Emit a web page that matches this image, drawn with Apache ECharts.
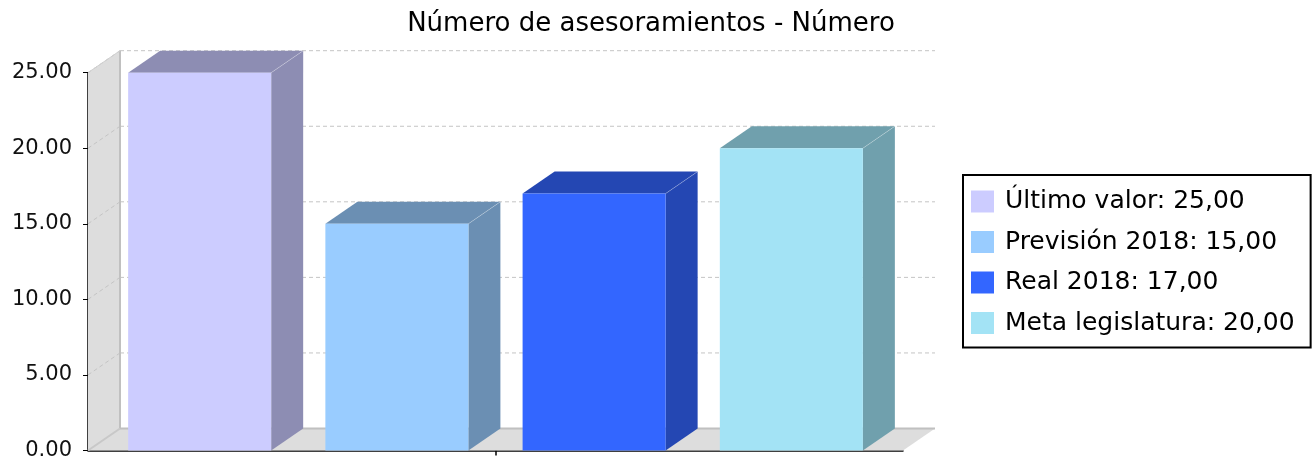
<!DOCTYPE html>
<html>
<head>
<meta charset="utf-8">
<script src="https://cdn.jsdelivr.net/npm/echarts@6/dist/echarts.min.js"></script>
<style>
html,body{margin:0;padding:0;background:#fff;}
#chart{width:1314px;height:461px;}
</style>
</head>
<body>
<div id="chart"></div>
<script>
// ---- data ----
const titleText = 'Número de asesoramientos - Número';
const categories = [''];
const seriesNames = ['Último valor', 'Previsión 2018', 'Real 2018', 'Meta legislatura'];
const seriesValues = [25, 15, 17, 20];
const yTicks = [0, 5, 10, 15, 20, 25];
const frontColors = ['#ccccff', '#99ccff', '#3366ff', '#a3e3f5'];
const sideColors = ['#8d8db3', '#6b8fb3', '#2447b3', '#70a0ad'];

// ---- 3D look ----
const DX = 32, DY = 22;
const STEP = 0.242, BARW = 0.1755;

const chart = echarts.init(document.getElementById('chart'), null, {renderer: 'canvas'});

function fmt(v) { return v.toFixed(2).replace('.', ','); }

function wallsRender(params, api) {
  const cs = params.coordSys;
  const x0 = cs.x, x1 = cs.x + cs.width;
  const yb = api.coord([0, yTicks[0]])[1];
  const yt = api.coord([0, yTicks[yTicks.length - 1]])[1];
  const children = [];
  children.push({type: 'polygon', shape: {points: [[x0, yb], [x1, yb], [x1 + DX, yb - DY], [x0 + DX, yb - DY]]},
    style: {fill: '#dddddd'}});
  children.push({type: 'polygon', shape: {points: [[x0, yb], [x0, yt], [x0 + DX, yt - DY], [x0 + DX, yb - DY]]},
    style: {fill: '#dddddd'}});
  yTicks.forEach(function (t) {
    if (t === yTicks[0]) return;
    const y = api.coord([0, t])[1];
    children.push({type: 'line', shape: {x1: x0 + DX, y1: y - DY, x2: x1 + DX, y2: y - DY},
      style: {stroke: '#c4c4c4', lineWidth: 1, lineDash: [4, 3]}});
    children.push({type: 'line', shape: {x1: x0, y1: y, x2: x0 + DX, y2: y - DY},
      style: {stroke: '#c4c4c4', lineWidth: 1, lineDash: [4, 3]}});
  });
  children.push({type: 'line', shape: {x1: x0 + DX, y1: yt - DY, x2: x0 + DX, y2: yb - DY},
    style: {stroke: '#c0c0c0', lineWidth: 2}});
  children.push({type: 'line', shape: {x1: x0 + DX, y1: yb - DY, x2: x1 + DX, y2: yb - DY},
    style: {stroke: '#c0c0c0', lineWidth: 2}});
  children.push({type: 'line', shape: {x1: x0, y1: yb, x2: x0 + DX, y2: yb - DY},
    style: {stroke: '#c8c8c8', lineWidth: 2}});
  children.push({type: 'line', shape: {x1: x0, y1: yt, x2: x0 + DX, y2: yt - DY},
    style: {stroke: '#d0d0d0', lineWidth: 1}});
  return {type: 'group', children: children};
}

function barRender(i) {
  return function (params, api) {
    const base = api.coord([api.value(0), 0]);
    const top = api.coord([api.value(0), api.value(1)]);
    const band = api.size([1, 0])[0];
    const cx = base[0] + (i - 1.5) * band * STEP;
    const bw = band * BARW;
    const xl = cx - bw / 2, xr = cx + bw / 2;
    const yb = base[1], yt = top[1];
    return {type: 'group', children: [
      {type: 'polygon', shape: {points: [[xr, yb], [xr, yt], [xr + DX, yt - DY], [xr + DX, yb - DY]]},
        style: {fill: sideColors[i]}},
      {type: 'polygon', shape: {points: [[xl, yt], [xl + DX, yt - DY], [xr + DX, yt - DY], [xr, yt]]},
        style: {fill: sideColors[i]}},
      {type: 'line', shape: {x1: xr, y1: yt, x2: xr + DX, y2: yt - DY},
        style: {stroke: 'rgba(255,255,255,0.25)', lineWidth: 1}},
      {type: 'rect', shape: {x: xl, y: yt, width: bw, height: yb - yt},
        style: {fill: frontColors[i]}}
    ]};
  };
}

const series = [{
  type: 'custom', name: '__walls', silent: true, clip: false, z: 1,
  renderItem: wallsRender, data: [[0, 0]], encode: {x: 0, y: 1}
}];
seriesNames.forEach(function (n, i) {
  series.push({
    type: 'custom', name: n, clip: false, z: 2,
    itemStyle: {color: frontColors[i]},
    renderItem: barRender(i),
    data: [[0, seriesValues[i]]], encode: {x: 0, y: 1}
  });
});

chart.setOption({
  animation: false,
  backgroundColor: '#ffffff',
  title: {
    text: titleText, left: 646, top: 6, textAlign: 'center',
    textStyle: {fontFamily: 'DejaVu Sans', fontSize: 26, fontWeight: 'normal', color: '#000'}
  },
  legend: {
    orient: 'vertical', left: 963, top: 175,
    data: seriesNames,
    icon: 'rect', itemWidth: 23, itemHeight: 22, itemGap: 15.5,
    padding: [14, 16, 12, 8],
    borderColor: '#000', borderWidth: 2,
    textStyle: {fontFamily: 'DejaVu Sans', fontSize: 25, color: '#000', padding: [0, 0, 0, 6]},
    formatter: function (name) {
      const i = seriesNames.indexOf(name);
      return name + ': ' + fmt(seriesValues[i]);
    }
  },
  grid: {left: 88, top: 72.7, width: 815, height: 379.3, containLabel: false},
  xAxis: {
    type: 'category', data: categories,
    axisLine: {lineStyle: {color: '#000', width: 1.5}},
    axisTick: {show: true, alignWithLabel: true, length: 5, lineStyle: {color: '#000', width: 1.5}},
    axisLabel: {show: false},
    splitLine: {show: false}
  },
  yAxis: {
    type: 'value', min: 0, max: 25, interval: 5,
    axisLine: {show: true, lineStyle: {color: '#000', width: 1.5}},
    axisTick: {show: true, length: 5, lineStyle: {color: '#000'}},
    axisLabel: {fontFamily: 'DejaVu Sans', fontSize: 21, color: '#111', margin: 16,
      formatter: function (v) { return v.toFixed(2); }},
    splitLine: {show: false}
  },
  series: series
});
</script>
</body>
</html>
